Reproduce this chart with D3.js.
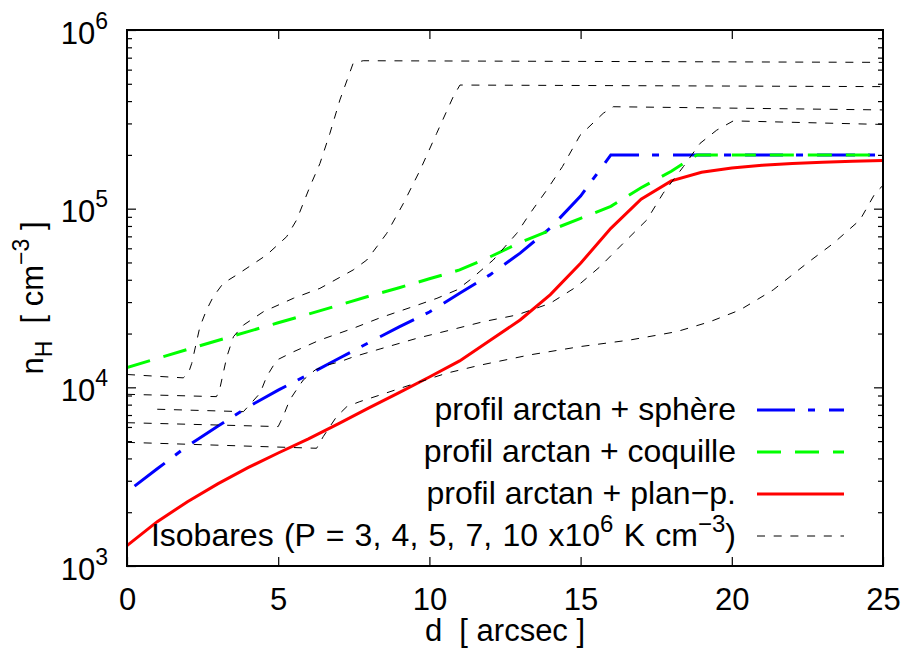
<!DOCTYPE html>
<html><head><meta charset="utf-8">
<script src="https://cdn.jsdelivr.net/npm/d3@7"></script>
<style>
body{margin:0;background:#fff;}
text{font-family:"Liberation Sans",Arial,Helvetica,sans-serif;white-space:pre;}
</style></head><body>
<svg id="chart" width="911" height="651"></svg>
<script>
// ---- data ----
const xTicks = [0, 5, 10, 15, 20, 25];
const yTicks = [1e3, 1e4, 1e5, 1e6];

const sphereD = [0.25, 1, 2, 3, 4, 5, 6, 7, 8, 9, 10, 11, 12, 13, 14, 15, 16, 25];
const sphereN = [2800, 3500, 4700, 6050, 7760, 9640, 11800, 14500, 17800, 21800, 26400, 33600, 42600, 56400, 78000, 117500, 200000, 200000];

const coquilleD = [0, 1, 2, 3, 4, 5, 6, 7, 8, 9, 10, 11, 12, 13, 14, 15, 16, 17, 18, 18.85, 25];
const coquilleN = [12900, 14500, 16300, 18300, 20500, 23000, 25700, 28800, 32400, 36100, 40500, 45400, 53700, 64600, 75700, 88300, 103000, 131000, 162000, 200000, 200000];

const planD = [0, 1, 2, 3, 4, 5, 6, 7, 8, 9, 10, 11, 12, 13, 14, 15, 16, 17, 18, 19, 20, 21, 22, 23, 24, 25];
const planN = [1300, 1770, 2290, 2880, 3550, 4290, 5150, 6270, 7670, 9330, 11430, 14060, 18280, 23820, 33040, 49500, 77600, 113000, 143000, 160000, 169000, 175000, 179000, 182000, 184000, 186000];

// isobars P = 10, 7, 5, 4, 3 x10^6 K cm^-3
const iso10D = [0, 1.86, 2.03, 2.14, 2.41, 2.63, 2.85, 3.18, 3.63, 4.62, 5.28, 5.61, 6.05, 6.38, 6.71, 7.04, 7.48, 7.81, 25];
const iso10N = [11800, 11300, 12000, 13600, 21800, 27100, 32100, 38200, 42600, 55100, 69700, 86500, 133000, 179000, 264000, 406000, 652000, 673000, 659000];

const iso7D = [0, 2.96, 3.06, 3.30, 3.52, 3.85, 4.51, 5.5, 6.38, 7.48, 7.93, 8.26, 8.59, 9.14, 9.69, 10.24, 10.79, 11.01, 25];
const iso7N = [9140, 8870, 9660, 14800, 19200, 22300, 26500, 31500, 35800, 45400, 51600, 61200, 72800, 107000, 164000, 264000, 424000, 492000, 482000];

const iso5D = [1.0, 3.85, 4.40, 4.62, 4.95, 5.5, 6.38, 7.48, 8.37, 9.59, 10.25, 10.91, 11.34, 12.11, 12.89, 13.33, 13.88, 14.4, 14.98, 15.75, 16.08, 25];
const iso5N = [7540, 7310, 9270, 11500, 14200, 15800, 18400, 21400, 24500, 28800, 31500, 35100, 39900, 51600, 72800, 94200, 127000, 172000, 257000, 342000, 372000, 357000];

const iso4D = [0, 5.0, 5.16, 5.38, 5.6, 5.83, 6.22, 6.6, 7.04, 7.48, 8.37, 9.58, 10.68, 11.78, 12.89, 13.99, 14.87, 15.64, 16.41, 17.19, 17.73, 18.4, 18.95, 19.5, 20.05, 25];
const iso4N = [6340, 6030, 6850, 8490, 9660, 11000, 12500, 13300, 13900, 14800, 16400, 18800, 20900, 23300, 25400, 29500, 36600, 47300, 64000, 86500, 122000, 172000, 232000, 275000, 310000, 296000];

const iso3D = [0, 6.27, 6.49, 6.71, 6.93, 7.27, 7.70, 8.37, 9.36, 10.57, 11.67, 13.33, 14.98, 16.63, 18.18, 19.28, 20.27, 21.37, 22.48, 23.36, 24.24, 24.74, 25];
const iso3N = [4920, 4560, 5300, 6030, 6850, 7800, 8320, 9060, 10300, 12000, 13300, 15200, 16900, 18400, 20500, 23300, 27100, 35100, 49400, 64000, 86500, 122000, 135000];

const legendLabels = ["profil arctan + sphère", "profil arctan + coquille", "profil arctan + plan\u2212p.", "Isobares"];

// ---- layout ----
const W = 911, H = 651;
const L = 127, T = 30, R = 883, B = 566;
const FS = 31;
const x = d3.scaleLinear().domain([0, 25]).range([L, R]);
const y = d3.scaleLog().domain([1e3, 1e6]).range([B, T]);

const svg = d3.select("#chart");
svg.append("rect").attr("width", W).attr("height", H).attr("fill", "#fff");
svg.append("defs").append("clipPath").attr("id", "clip")
  .append("rect").attr("x", L).attr("y", T).attr("width", R - L).attr("height", B - T);

const minors = [];
for (let k = 3; k < 6; k++) for (let j = 2; j <= 9; j++) minors.push(j * Math.pow(10, k));

function styleAxis(g) {
  g.select(".domain").remove();
  g.selectAll(".tick line").attr("stroke", "#000").attr("stroke-width", 1.2);
  g.attr("font-family", null).attr("font-size", FS);
  g.selectAll(".tick text").attr("fill", "#000");
}

// bottom
svg.append("g").attr("transform", `translate(0,${B})`)
  .call(d3.axisBottom(x).tickValues(xTicks).tickSize(-9).tickPadding(22).tickFormat(d3.format("d")))
  .call(styleAxis);
// top
svg.append("g").attr("transform", `translate(0,${T})`)
  .call(d3.axisTop(x).tickValues(xTicks.slice(1, -1)).tickSize(-9).tickFormat(""))
  .call(styleAxis);
// left major
const gl = svg.append("g").attr("transform", `translate(${L},0)`)
  .call(d3.axisLeft(y).tickValues(yTicks).tickSize(-9).tickPadding(19))
  .call(styleAxis);
gl.selectAll(".tick text").each(function(d) {
  const t = d3.select(this);
  t.text("").attr("dy", null).attr("y", 13);
  t.append("tspan").text("10");
  t.append("tspan").attr("dy", -15).attr("font-size", 23).text(Math.round(Math.log10(d)));
});
// left minor
svg.append("g").attr("transform", `translate(${L},0)`)
  .call(d3.axisLeft(y).tickValues(minors).tickSize(-5).tickFormat(""))
  .call(styleAxis);
// right
svg.append("g").attr("transform", `translate(${R},0)`)
  .call(d3.axisRight(y).tickValues(yTicks.slice(1, -1)).tickSize(-9).tickFormat(""))
  .call(styleAxis);
svg.append("g").attr("transform", `translate(${R},0)`)
  .call(d3.axisRight(y).tickValues(minors).tickSize(-5).tickFormat(""))
  .call(styleAxis);

// ---- series ----
const line = d3.line().x(d => x(d[0])).y(d => y(d[1]));
const zip = (a, b) => a.map((v, i) => [v, b[i]]);
const plot = svg.append("g").attr("clip-path", "url(#clip)");

const series = [
  { d: sphereD, n: sphereN, color: "#0000ff", w: 3, dash: "38,13,7,14" },
  { d: coquilleD, n: coquilleN, color: "#00ff00", w: 3, dash: "24,14" },
  { d: planD, n: planN, color: "#ff0000", w: 3, dash: null },
];
const isoDash = "8,8.7";
const isobars = [[iso10D, iso10N], [iso7D, iso7N], [iso5D, iso5N], [iso4D, iso4N], [iso3D, iso3N]];

series.forEach(s => {
  plot.append("path").attr("d", line(zip(s.d, s.n))).attr("fill", "none")
    .attr("stroke", s.color).attr("stroke-width", s.w)
    .attr("stroke-dasharray", s.dash).attr("stroke-linejoin", "miter");
});
isobars.forEach(([dd, nn]) => {
  plot.append("path").attr("d", line(zip(dd, nn))).attr("fill", "none")
    .attr("stroke", "#000").attr("stroke-width", 1).attr("stroke-dasharray", isoDash);
});

// frame
svg.append("rect").attr("x", L).attr("y", T).attr("width", R - L).attr("height", B - T)
  .attr("fill", "none").attr("stroke", "#000").attr("stroke-width", 2);

// ---- legend ----
const legY = [420, 462, 504, 546];
const legStyles = [series[0], series[1], series[2], { color: "#000", w: 1, dash: isoDash }];
const lg = svg.append("g").attr("font-size", FS + 1);
legendLabels.forEach((lab, i) => {
  const t = lg.append("text").attr("x", 736).attr("y", legY[i]).attr("text-anchor", "end");
  if (i < 3) t.text(lab);
  else {
    t.attr("word-spacing", 1.4);
    t.append("tspan").text(lab + " (P = 3, 4, 5, 7, 10 x10");
    t.append("tspan").attr("dy", -14).attr("font-size", 24).text("6");
    t.append("tspan").attr("dy", 14).text(" K cm");
    t.append("tspan").attr("dy", -14).attr("font-size", 24).text("\u22123");
    t.append("tspan").attr("dy", 14).text(")");
  }
  const s = legStyles[i];
  lg.append("line").attr("x1", 757).attr("x2", 844).attr("y1", legY[i] - 10).attr("y2", legY[i] - 10)
    .attr("stroke", s.color).attr("stroke-width", s.w).attr("stroke-dasharray", s.dash);
});

// ---- axis titles ----
svg.append("text").attr("x", (L + R) / 2).attr("y", 641).attr("text-anchor", "middle")
  .attr("font-size", FS).text("d  [ arcsec ]");

const yl = svg.append("text").attr("transform", "translate(43,298) rotate(-90)")
  .attr("text-anchor", "middle").attr("font-size", FS);
yl.append("tspan").text("n");
yl.append("tspan").attr("dy", 9).attr("font-size", 23).text("H");
yl.append("tspan").attr("dy", -9).text("  [ cm");
yl.append("tspan").attr("dy", -14).attr("font-size", 23).text("\u22123");
yl.append("tspan").attr("dy", 14).text(" ]");
</script>
</body></html>
